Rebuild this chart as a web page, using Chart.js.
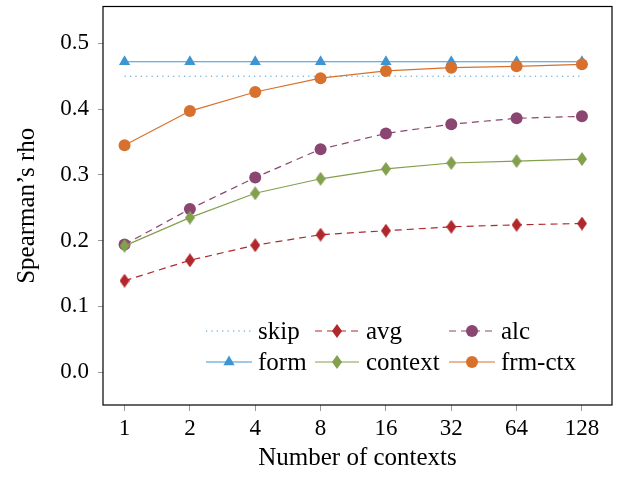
<!DOCTYPE html>
<html>
<head>
<meta charset="utf-8">
<script src="https://cdn.jsdelivr.net/npm/chart.js@4.4.1/dist/chart.umd.min.js"></script>
<style>
  html, body { margin: 0; padding: 0; background: #fff; }
  #caja { width: 630px; height: 477px; }
</style>
</head>
<body>
<div id="caja"><canvas id="grafica"></canvas></div>
<script>
// valores
const etiquetasX = ['1', '2', '4', '8', '16', '32', '64', '128'];
const ticksY = [0.0, 0.1, 0.2, 0.3, 0.4, 0.5];
const skip = [0.450, 0.450, 0.450, 0.450, 0.450, 0.450, 0.450, 0.450];
const avg = [0.139, 0.170, 0.193, 0.209, 0.215, 0.221, 0.224, 0.226];
const alc = [0.194, 0.248, 0.296, 0.339, 0.363, 0.377, 0.386, 0.389];
const form = [0.472, 0.472, 0.472, 0.472, 0.472, 0.472, 0.472, 0.472];
const context = [0.192, 0.235, 0.272, 0.294, 0.309, 0.318, 0.321, 0.324];
const frmCtx = [0.345, 0.397, 0.426, 0.447, 0.458, 0.463, 0.465, 0.468];

const fuente = "'Liberation Serif', 'Times New Roman', serif";

function puntos(valores) {
  return valores.map((v, i) => ({ x: i, y: v }));
}

// rombo mas alto que ancho, como en pgfplots
function rombo(color, w, h) {
  let c = document.createElement('canvas');
  c.width = w; c.height = h;
  let g = c.getContext('2d');
  g.fillStyle = color;
  g.beginPath();
  g.moveTo(w / 2, 0);
  g.lineTo(w, h / 2);
  g.lineTo(w / 2, h);
  g.lineTo(0, h / 2);
  g.closePath();
  g.fill();
  return c;
}

const series = [
  { label: 'skip', data: skip, color: '#3d96d2', dash: [1.2, 4.2], estilo: false, radio: 0, ancho: 1 },
  { label: 'avg', data: avg, color: '#b0282b', dash: [7, 5], estilo: rombo('#b0282b', 10, 14), radio: 6, ancho: 1.2 },
  { label: 'alc', data: alc, color: '#8a4670', dash: [7, 5], estilo: 'circle', radio: 6, ancho: 1.2 },
  { label: 'form', data: form, color: '#3d96d2', dash: [], estilo: 'triangle', radio: 6.5, ancho: 1.2 },
  { label: 'context', data: context, color: '#83a04e', dash: [], estilo: rombo('#83a04e', 10, 14), radio: 6, ancho: 1.2 },
  { label: 'frm-ctx', data: frmCtx, color: '#d8712e', dash: [], estilo: 'circle', radio: 6, ancho: 1.2 }
];

// leyenda dentro del area, 3 columnas
const leyendaPlugin = {
  id: 'leyendaPlugin',
  afterDraw(chart) {
    const ctx = chart.ctx;
    const a = chart.chartArea;
    // marco negro
    ctx.save();
    ctx.strokeStyle = '#000';
    ctx.lineWidth = 1.2;
    ctx.strokeRect(a.left, a.top, a.right - a.left, a.bottom - a.top);

    const cols = [[206, 252, 258], [315, 359, 366], [449, 495, 501]];
    const filas = [331, 362];
    ctx.font = '25px ' + fuente;
    ctx.textBaseline = 'middle';
    series.forEach((s, i) => {
      const c = cols[i % 3];
      const y = filas[Math.floor(i / 3)];
      ctx.strokeStyle = s.color;
      ctx.lineWidth = s.ancho;
      ctx.setLineDash(s.dash);
      ctx.beginPath();
      ctx.moveTo(c[0], y);
      ctx.lineTo(c[1], y);
      ctx.stroke();
      ctx.setLineDash([]);
      if (s.estilo) {
        ctx.fillStyle = s.color;
        Chart.helpers.drawPoint(ctx, { pointStyle: s.estilo, radius: s.radio, borderWidth: 0 }, (c[0] + c[1]) / 2, y);
      }
      ctx.fillStyle = '#000';
      ctx.fillText(s.label, c[2], y + 1);
    });
    ctx.restore();
  }
};

const ctx = document.getElementById('grafica').getContext('2d');
window.grafica = new Chart(ctx, {
  type: 'line',
  data: {
    datasets: series.map((s, i) => ({
      label: s.label,
      data: puntos(s.data),
      borderColor: s.color,
      backgroundColor: s.color,
      borderWidth: s.ancho,
      borderDash: s.dash,
      pointStyle: s.estilo,
      pointRadius: s.radio,
      pointBorderWidth: 0,
      pointBackgroundColor: s.color,
      tension: 0,
      order: series.length - i
    }))
  },
  options: {
    responsive: true,
    maintainAspectRatio: false,
    animation: false,
    events: [],
    layout: { padding: { left: 0, right: 18, top: 6, bottom: 0 } },
    plugins: {
      legend: { display: false },
      tooltip: { enabled: false }
    },
    scales: {
      x: {
        type: 'linear',
        min: -0.33,
        max: 7.46,
        afterBuildTicks: (eje) => { eje.ticks = etiquetasX.map((t, i) => ({ value: i })); },
        afterFit: (eje) => { eje.height = 72; eje.paddingLeft = 0; eje.paddingRight = 0; },
        grid: { drawOnChartArea: false, drawTicks: true, tickLength: 6, color: '#999' },
        border: { display: false },
        ticks: {
          callback: (v) => etiquetasX[v],
          color: '#000',
          font: { family: fuente, size: 23 },
          padding: 4,
          maxRotation: 0
        },
        title: {
          display: true,
          text: 'Number of contexts',
          color: '#000',
          font: { family: fuente, size: 25, lineHeight: 1.0 },
          padding: { top: 6, bottom: 6 }
        }
      },
      y: {
        min: -0.05,
        max: 0.556,
        afterBuildTicks: (eje) => { eje.ticks = ticksY.map(v => ({ value: v })); },
        afterFit: (eje) => { eje.width = 103; eje.paddingTop = 0; eje.paddingBottom = 0; },
        grid: { drawOnChartArea: false, drawTicks: true, tickLength: 5, color: '#999' },
        border: { display: false },
        ticks: {
          callback: (v) => v.toFixed(1),
          color: '#000',
          font: { family: fuente, size: 23 },
          padding: 9
        },
        title: {
          display: true,
          text: 'Spearman’s rho',
          color: '#000',
          font: { family: fuente, size: 25, lineHeight: 1.0 },
          padding: { top: 15, bottom: 0 }
        }
      }
    }
  },
  plugins: [leyendaPlugin]
});
</script>
</body>
</html>
